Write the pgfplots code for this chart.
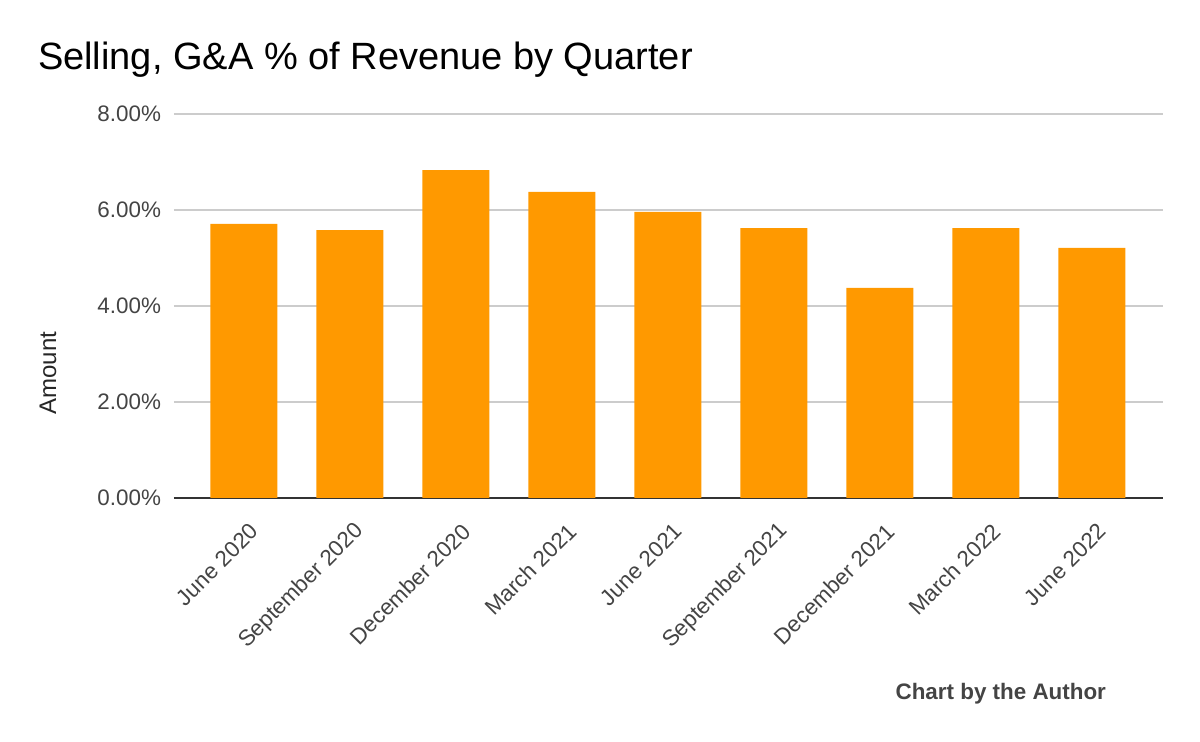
\documentclass[border=0pt]{standalone}
\usepackage{pgfplots}
\pgfplotsset{compat=1.18}
\usepackage{fontspec}
\setmainfont{Liberation Sans}
\definecolor{barorange}{HTML}{FF9900}
\definecolor{gridgray}{HTML}{CCCCCC}
\definecolor{labelgray}{HTML}{444444}
\definecolor{axisdark}{HTML}{333333}
\begin{document}
\begin{tikzpicture}
\useasboundingbox (-87pt,-122pt) rectangle (513pt,249pt);
\begin{axis}[
  at={(0pt,0pt)}, anchor=south west,
  scale only axis, width=494.5pt, height=192pt,
  xmin=-0.66, xmax=8.67, ymin=0, ymax=8,
  axis line style={draw=none},
  ytick={0,2,4,6,8},
  yticklabels={0.00\%,2.00\%,4.00\%,6.00\%,8.00\%},
  ymajorgrids, grid style={gridgray, line width=0.8pt},
  major tick length=0pt,
  xtick=data,
  xticklabels={June 2020,September 2020,December 2020,March 2021,June 2021,September 2021,December 2021,March 2022,June 2022},
  xticklabel style={xshift=6pt, yshift=-14pt, rotate=45, anchor=east, inner sep=1pt, font=\fontsize{11.2}{12}\selectfont, text=labelgray},
  yticklabel style={font=\fontsize{11.2}{12}\selectfont, text=labelgray, xshift=-3pt},
  extra y ticks={0}, extra y tick labels={},
  extra y tick style={grid style={axisdark, line width=1pt}},
  clip=false,
]
\addplot[ybar, bar width=33.5pt, fill=barorange, draw=none] coordinates {
(0,5.71) (1,5.58) (2,6.83) (3,6.38) (4,5.96) (5,5.62) (6,4.38) (7,5.62) (8,5.21)
};
\end{axis}
\node[anchor=base west, font=\fontsize{19}{22}\selectfont, text=black] at (-71.5pt,214pt) {Selling, G\&A \% of Revenue by Quarter};
\node[rotate=90, font=\fontsize{12}{14}\selectfont, text=black!85] at (-63pt,62.5pt) {Amount};
\node[anchor=base east, font=\bfseries\fontsize{11.2}{13}\selectfont, text=labelgray] at (469.5pt,-101pt) {Chart by the Author};
\end{tikzpicture}
\end{document}
